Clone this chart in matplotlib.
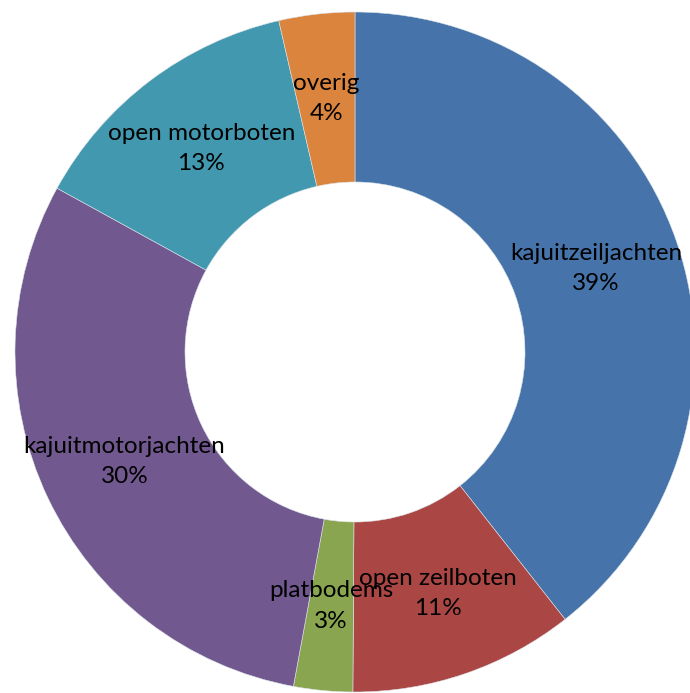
import matplotlib
matplotlib.use("Agg")
import matplotlib.pyplot as plt

# boat types, share of total (%)
categories = ["kajuitzeiljachten", "open zeilboten", "platbodems",
              "kajuitmotorjachten", "open motorboten", "overig"]
values = [39.4, 10.7, 2.8, 30.1, 13.4, 3.6]
colors = ["#4674AA", "#AA4644", "#89A54F", "#71588F", "#4198AF", "#DB843D"]

labels = [f"{c}\n{v:.0f}%" for c, v in zip(categories, values)]

fig = plt.figure(figsize=(6.9, 6.93), dpi=100)
ax = fig.add_axes([15 / 690, 1 / 693, 680 / 690, 680 / 693])

wedges, texts = ax.pie(values, labels=labels, colors=colors, startangle=90,
                       counterclock=False, labeldistance=0.75,
                       wedgeprops=dict(width=0.5, edgecolor="#dde3ea", linewidth=0.4),
                       textprops=dict(fontsize=17.5, family="Lato", color="black"))
for t in texts:
    t.set_ha("center")
    t.set_va("center")
    t.set_multialignment("center")
    t.set_linespacing(1.55)

ax.set_xlim(-1, 1)
ax.set_ylim(-1, 1)
ax.set_aspect("equal")
ax.axis("off")

fig.savefig("out.png", dpi=100)
